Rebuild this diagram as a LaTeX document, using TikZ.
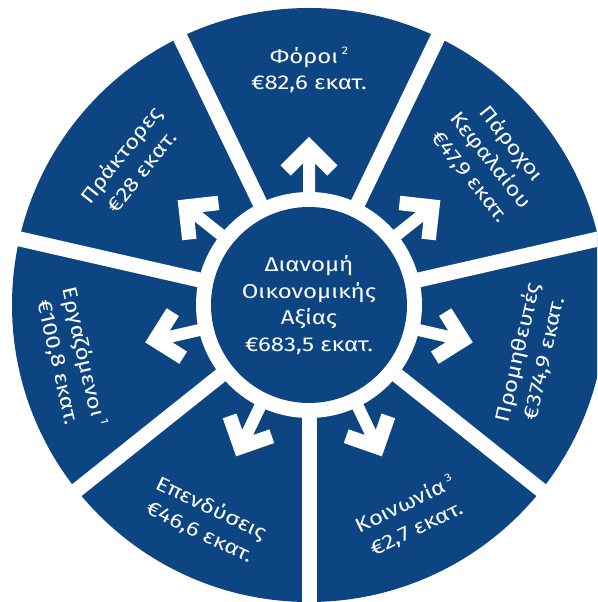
\documentclass[tikz,border=0pt]{standalone}
\usepackage{fontspec}
\setmainfont{Fira Sans}[FakeStretch=1.2]
\definecolor{wheelblue}{RGB}{12,69,130}
\newcommand\supnote[1]{\,\raisebox{0.8ex}{\fontsize{11}{11}\selectfont #1}}
\begin{document}
\begin{tikzpicture}[x=1pt,y=1pt,
  lbl/.style={text=white, align=center, font=\fontsize{20}{26.5}\selectfont, inner sep=0pt},
  divider/.style={draw=white, line width=15pt},
  outarrow/.style={fill=white}]
\useasboundingbox (0,0) rectangle (597,602);
\clip (0,0) rectangle (597,602);
\coordinate (c) at (309,297);
% wheel body and the white ring around the hub
\fill[wheelblue] (c) circle[radius=297];
\fill[white] (c) circle[radius=113];
% white gaps between the seven sectors
\foreach \a in {270,321.43,12.86,64.29,115.71,167.14,218.57}
  \draw[divider] (c) -- ++(\a:330);
% arrows from the hub into each sector
\foreach \a in {90,38.57,347.14,295.71,244.29,192.86,141.43}
  \fill[outarrow, shift={(c)}, rotate=\a]
    (168,0) -- (139.5,28.5) -- (129.25,18.25) -- (141.5,6) -- (100,6)
    -- (100,-6) -- (141.5,-6) -- (129.25,-18.25) -- (139.5,-28.5) -- cycle;
% hub
\node[circle, fill=wheelblue, minimum size=196pt, lbl] (hub) at (c)
  {Διανομή\\Οικονομικής\\Αξίας\\€683,5 εκατ.};
% sector labels
\node[lbl, rotate=0] (foroi) at ([shift={(90:235)}]c)
  {Φόροι\supnote{2}\\€82,6 εκατ.};
\node[lbl, rotate=-51.43] (parochoi) at ([shift={(38.57:232)}]c)
  {Πάροχοι\\Κεφαλαίου\\€47,9 εκατ.};
\node[lbl, rotate=77.14] (promitheftes) at ([shift={(347.14:228)}]c)
  {Προμηθευτές\\€374,9 εκατ.};
\node[lbl, rotate=25.71] (koinonia) at ([shift={(295.71:235)}]c)
  {Κοινωνία\supnote{3}\\€2,7 εκατ.};
\node[lbl, rotate=-25.71] (ependyseis) at ([shift={(244.29:239)}]c)
  {Επενδύσεις\\€46,6 εκατ.};
\node[lbl, rotate=-77.14] (ergazomenoi) at ([shift={(192.86:244)}]c)
  {Εργαζόμενοι\supnote{1}\\€100,8 εκατ.};
\node[lbl, rotate=51.43] (praktores) at ([shift={(141.43:228)}]c)
  {Πράκτορες\\€28 εκατ.};
\end{tikzpicture}
\end{document}
